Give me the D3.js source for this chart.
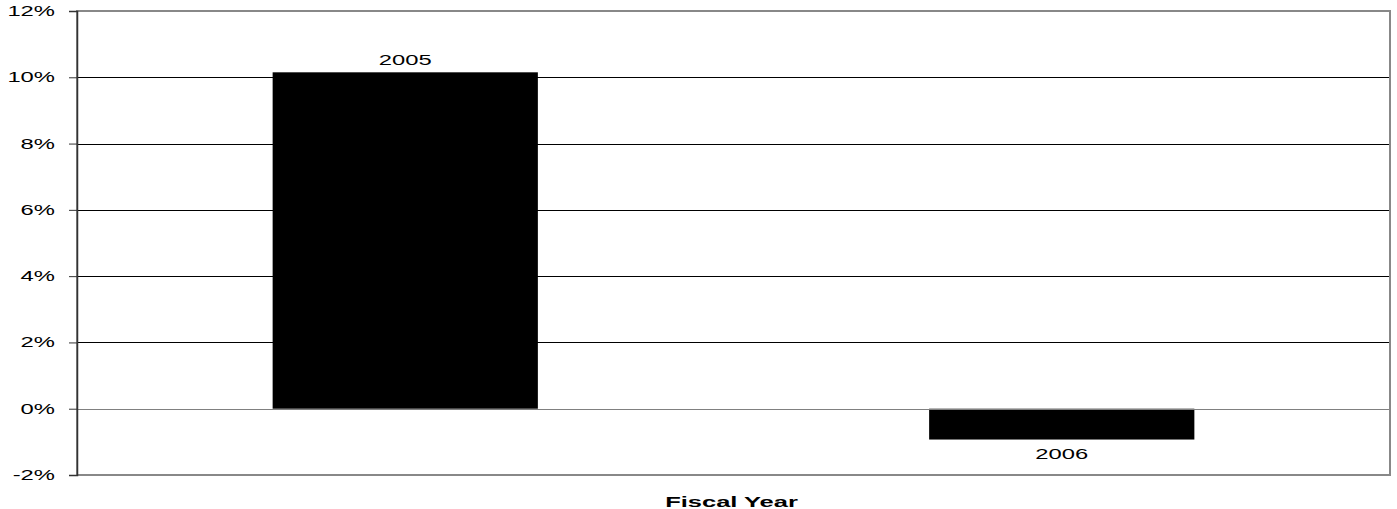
<!DOCTYPE html>
<html>
<head>
<meta charset="utf-8">
<script src="https://cdn.jsdelivr.net/npm/d3@7"></script>
<style>
  body { margin: 0; background: #fff; }
  svg { display: block; font-family: "Liberation Sans", Arial, sans-serif; }
</style>
</head>
<body>
<div id="chart"></div>
<script>
// chart data
const years = ["2005", "2006"];
const changes = [10.15, -0.93];
const yTicks = [-2, 0, 2, 4, 6, 8, 10, 12];
const xTitle = "Fiscal Year";

const width = 1397, height = 509;
const margin = { top: 11, right: 7, bottom: 34, left: 77 };
const innerW = width - margin.left - margin.right;
const innerH = height - margin.top - margin.bottom;
const stretch = 1.7; // text in the original is wide

const svg = d3.select("#chart").append("svg")
    .attr("width", width)
    .attr("height", height);

const g = svg.append("g")
    .attr("transform", `translate(${margin.left},${margin.top})`);

const x = d3.scaleBand()
    .domain(years)
    .range([0, innerW])
    .paddingInner(0.596)
    .paddingOuter(0.298);

const y = d3.scaleLinear()
    .domain([-2, 12])
    .range([innerH, 0]);

function wideText(sel, tx, ty) {
    sel.attr("transform", `translate(${tx},${ty}) scale(${stretch},1)`);
}

// gridlines
g.append("g")
    .selectAll("line")
    .data(yTicks.filter(d => d !== 0 && d !== 12 && d !== -2))
    .enter()
    .append("line")
        .attr("x1", 0)
        .attr("x2", innerW)
        .attr("y1", d => Math.round(y(d)) + 0.5)
        .attr("y2", d => Math.round(y(d)) + 0.5)
        .attr("stroke", "#000")
        .attr("stroke-width", 1);

// bars
const data = years.map((yr, i) => ({ year: yr, value: changes[i] }));
g.append("g")
    .selectAll("rect")
    .data(data)
    .enter()
    .append("rect")
        .attr("x", d => x(d.year))
        .attr("width", x.bandwidth())
        .attr("y", d => y(Math.max(0, d.value)))
        .attr("height", d => Math.abs(y(d.value) - y(0)))
        .attr("fill", "#000");

// zero line
g.append("line")
    .attr("x1", 0)
    .attr("x2", innerW)
    .attr("y1", Math.round(y(0)) + 0.5)
    .attr("y2", Math.round(y(0)) + 0.5)
    .attr("stroke", "#808080")
    .attr("stroke-width", 1);

// plot border (gray)
g.append("rect")
    .attr("x", 0)
    .attr("y", 0)
    .attr("width", innerW)
    .attr("height", innerH)
    .attr("fill", "none")
    .attr("stroke", "#888")
    .attr("stroke-width", 2);

// y axis (ticks only, labels drawn separately)
const yAxis = g.append("g")
    .call(d3.axisLeft(y).tickValues(yTicks).tickFormat("").tickSize(8));
yAxis.select(".domain").attr("stroke", "#333").attr("stroke-width", 1.5);
yAxis.selectAll(".tick line").attr("stroke", "#333");

g.append("g")
    .selectAll("text")
    .data(yTicks)
    .enter()
    .append("text")
        .attr("text-anchor", "end")
        .attr("font-size", 14)
        .attr("fill", "#000")
        .each(function(d) { wideText(d3.select(this), -22, y(d) + 5); })
        .text(d => d + "%");

// data labels
g.append("g")
    .selectAll("text")
    .data(data)
    .enter()
    .append("text")
        .attr("text-anchor", "middle")
        .attr("font-size", 14)
        .attr("fill", "#000")
        .each(function(d) {
            const ty = d.value >= 0 ? y(d.value) - 7 : y(d.value) + 19;
            wideText(d3.select(this), x(d.year) + x.bandwidth() / 2, ty);
        })
        .text(d => d.year);

// axis title
svg.append("text")
    .attr("text-anchor", "middle")
    .attr("font-size", 15)
    .attr("font-weight", "bold")
    .call(wideText, margin.left + innerW / 2 - 2, 507)
    .text(xTitle);
</script>
</body>
</html>
